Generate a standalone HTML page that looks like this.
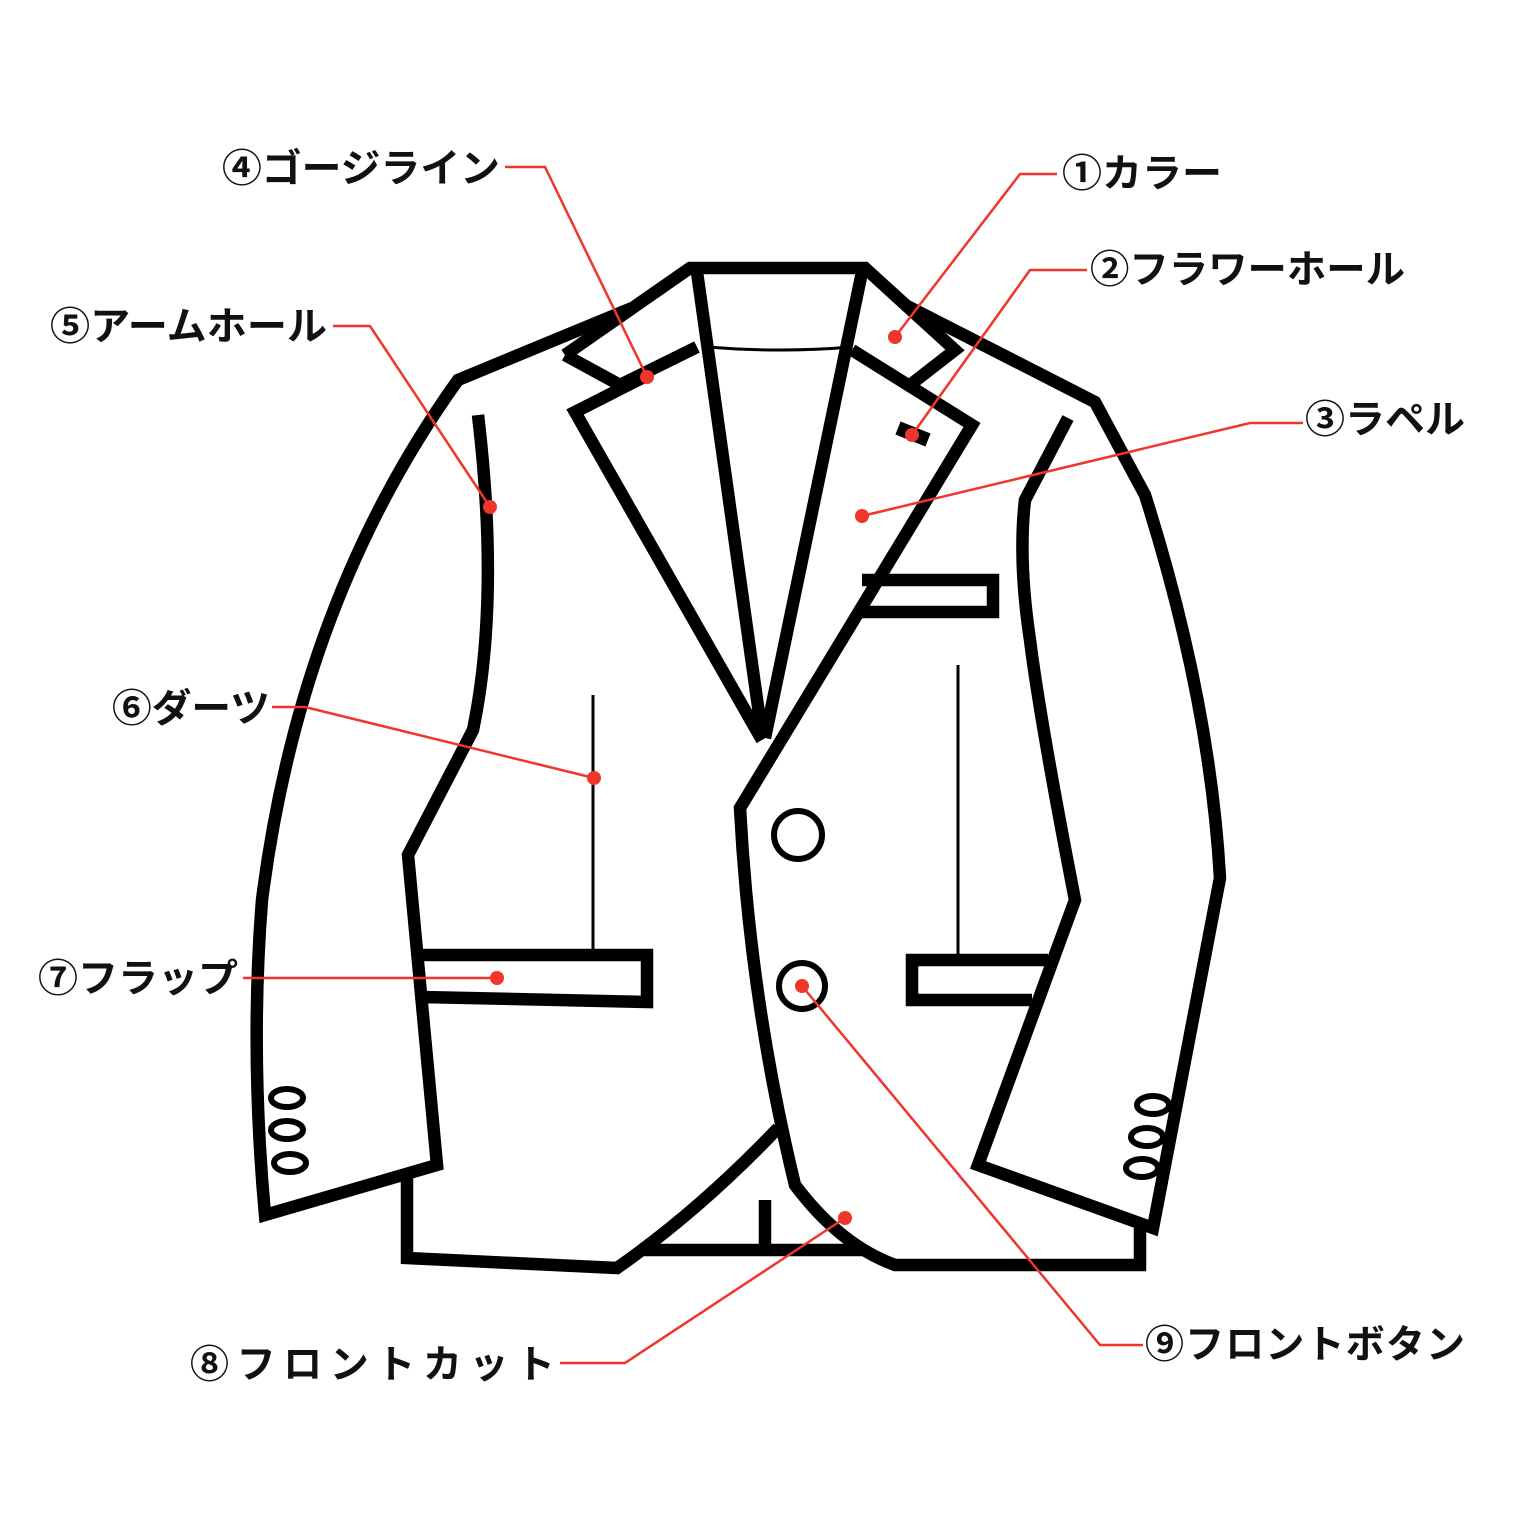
<!DOCTYPE html>
<html><head><meta charset="utf-8"><style>
html,body{margin:0;padding:0;background:#fff}
svg{display:block}
text{font-family:"Liberation Sans","Noto Sans CJK JP",sans-serif;font-weight:bold;font-size:39px;fill:#111}
</style></head><body>
<svg width="1536" height="1536" viewBox="0 0 1536 1536" xmlns="http://www.w3.org/2000/svg">
<g fill="none" stroke="#000" stroke-width="12.5" stroke-linejoin="miter" stroke-linecap="butt">
<path d="M632,308 L458,380 Q300,600 262,900 Q250,1050 265,1215 L437,1165 L408,855 L473,730 Q500,600 478,415"/>
<path d="M407,1175 L407,1258 L617,1268 Q700,1210 778,1128"/>
<path d="M565,355 L690,268 L865,268 L955,350 L910,385"/>
<path d="M565,355 L620,385 L697,347"/>
<path d="M642,378 L575,412 L762,740"/>
<path d="M697,272 L762,735"/>
<path d="M862,272 L765,738"/>
<path d="M852,350 L972,425 L740,808 Q750,1000 795,1185 Q840,1245 895,1265 L1140,1265 L1140,1228"/>
<path d="M905,305 L1095,402 L1145,495 Q1210,700 1220,878 L1153,1228 L978,1165 L1075,900 Q1040,720 1030,640 Q1018,560 1025,500 L1068,418"/>
<path d="M862,580 L993,580 L993,612 L862,612"/>
<path d="M418,955 L647,955 L647,1002 L422,997"/>
<path d="M1048,960 L912,960 L912,1000 L1032,1000"/>
<path d="M640,1250 L865,1250"/>
<path d="M765,1200 L765,1248"/>
<path d="M898,428 L928,440" stroke-width="14"/>
</g>
<g fill="none" stroke="#000" stroke-width="3">
<path d="M707,347 Q780,353 852,347"/>
<path d="M593,695 L593,950"/>
<path d="M958,665 L958,955"/>
</g>
<g fill="none" stroke="#000" stroke-width="6">
<circle cx="798" cy="835" r="24"/>
<circle cx="802" cy="986" r="23"/>
<ellipse cx="287" cy="1098" rx="16" ry="9"/>
<ellipse cx="287" cy="1130" rx="16" ry="9"/>
<ellipse cx="290" cy="1163" rx="16" ry="9"/>
<ellipse cx="1153" cy="1105" rx="16" ry="9"/>
<ellipse cx="1147" cy="1137" rx="16" ry="9"/>
<ellipse cx="1142" cy="1168" rx="16" ry="9"/>
</g>
<g fill="none" stroke="#f0352a" stroke-width="2.5">
<path d="M505,167 L545,167 L647,377"/>
<path d="M1057,174 L1020,174 L895,337"/>
<path d="M1087,270 L1030,270 L912,435"/>
<path d="M1303,423 L1250,423 L862,516"/>
<path d="M333,326 L370,326 L490,507"/>
<path d="M272,707 L305,707 L594,778"/>
<path d="M243,978 L497,978"/>
<path d="M560,1363 L625,1363 L845,1218"/>
<path d="M1143,1345 L1100,1345 L802,986"/>
</g>
<g fill="#f0352a">
<circle cx="647" cy="377" r="7"/><circle cx="895" cy="337" r="7"/><circle cx="912" cy="435" r="7"/>
<circle cx="862" cy="516" r="7"/><circle cx="490" cy="507" r="7"/><circle cx="594" cy="778" r="7"/>
<circle cx="497" cy="978" r="7"/><circle cx="845" cy="1218" r="7"/><circle cx="802" cy="986" r="7"/>
</g>
<text x="222" y="182" textLength="278" lengthAdjust="spacingAndGlyphs">④ゴージライン</text>
<text x="1062" y="187" textLength="160" lengthAdjust="spacingAndGlyphs">①カラー</text>
<text x="1090" y="283" textLength="315" lengthAdjust="spacingAndGlyphs">②フラワーホール</text>
<text x="1305" y="433" textLength="160" lengthAdjust="spacingAndGlyphs">③ラペル</text>
<text x="50" y="340" textLength="277" lengthAdjust="spacingAndGlyphs">⑤アームホール</text>
<text x="112" y="722" textLength="158" lengthAdjust="spacingAndGlyphs">⑥ダーツ</text>
<text x="38" y="992" textLength="200" lengthAdjust="spacingAndGlyphs">⑦フラップ</text>
<text x="190" y="1378" textLength="365" lengthAdjust="spacing">⑧フロントカット</text>
<text x="1145" y="1358" textLength="320" lengthAdjust="spacing">⑨フロントボタン</text>
</svg>
</body></html>
